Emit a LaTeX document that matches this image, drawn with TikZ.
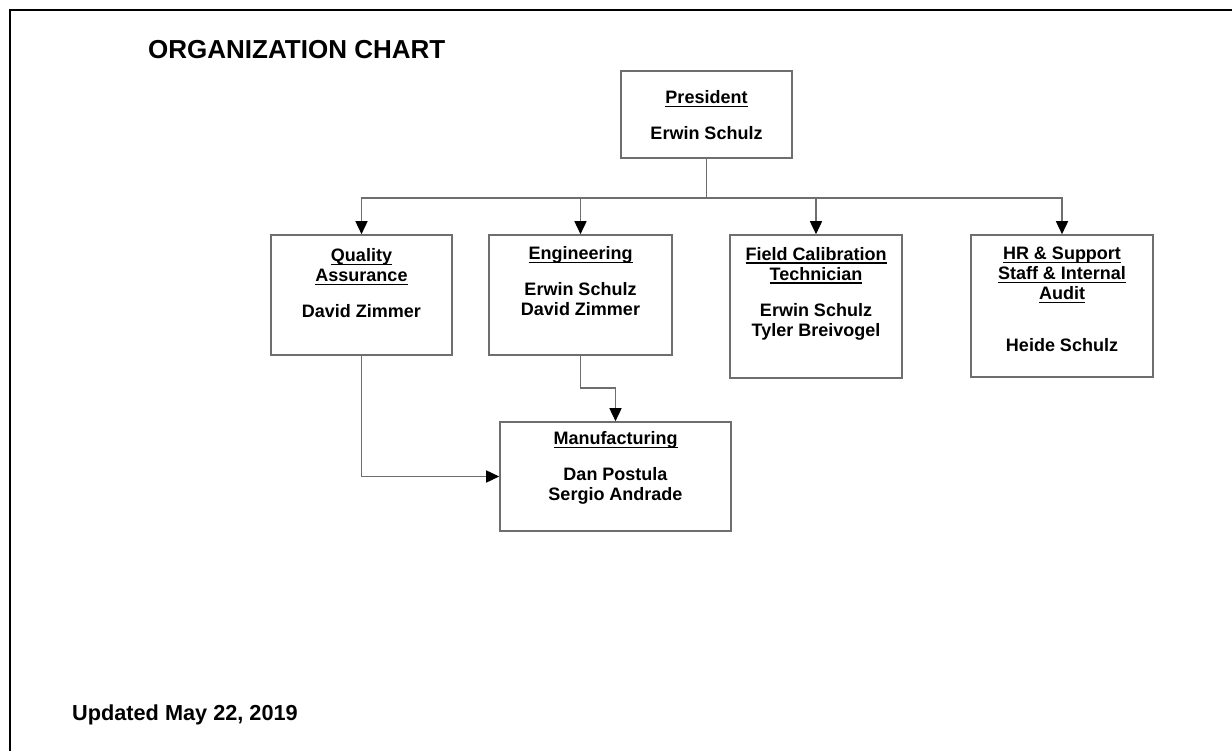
\documentclass[tikz,border=0pt]{standalone}
\usepackage{fontspec}
\setmainfont{Liberation Sans}
\usetikzlibrary{arrows.meta}
\definecolor{linegray}{RGB}{110,110,110}
\newsavebox{\myulbox}
\newcommand\myul[1]{\sbox{\myulbox}{#1}\rlap{\raisebox{-3.6pt}{\rule{\wd\myulbox}{1.5pt}}}\usebox{\myulbox}}
\begin{document}
\begin{tikzpicture}[x=1pt,y=-1pt,
  box/.style={draw=linegray,line width=1.6pt,fill=white,inner sep=0pt},
  conn/.style={draw=linegray,line width=1.6pt},
  arr/.style={conn,-{Triangle[length=13pt,width=12pt,color=black]}},
  lbl/.style={inner sep=0pt,align=center,font=\fontsize{18}{20}\selectfont\bfseries},
  bigtitle/.style={inner sep=0pt,anchor=west,font=\fontsize{26}{30}\selectfont\bfseries},
  foot/.style={inner sep=0pt,anchor=west,font=\fontsize{21.7}{24}\selectfont\bfseries}]
\useasboundingbox (0,0) rectangle (1232,751);
\fill[white] (0,0) rectangle (1232,751);
% outer frame (top and left visible)
\draw[black,line width=2.2pt] (10,751) -- (10,10) -- (1232,10);

\node[bigtitle] (title) at (148,50) {ORGANIZATION CHART};
\node[foot] (upd) at (72,715) {Updated May 22, 2019};

% boxes
\node[box,minimum width=171pt,minimum height=87pt] (pres) at (706.5,114.5) {};
\node[box,minimum width=181pt,minimum height=120pt] (qa) at (361.5,295) {};
\node[box,minimum width=183pt,minimum height=120pt] (eng) at (580.5,295) {};
\node[box,minimum width=172pt,minimum height=143pt] (fct) at (816,306.5) {};
\node[box,minimum width=182pt,minimum height=142pt] (hr) at (1062,306) {};
\node[box,minimum width=231pt,minimum height=109pt] (mfg) at (615.5,476.5) {};

% texts
\node[lbl] (presT) at (706.5,99) {\myul{President}};
\node[lbl] (presN) at (706.5,133) {Erwin Schulz};
\node[lbl] (qaT) at (361.5,267) {\myul{Quality}\\\myul{Assurance}};
\node[lbl] (qaN) at (361.5,311) {David Zimmer};
\node[lbl] (engT) at (580.5,255) {\myul{Engineering}};
\node[lbl] (engN) at (580.5,299.5) {Erwin Schulz\\David Zimmer};
\node[lbl] (fctT) at (816,265.5) {\myul{Field Calibration}\\\myul{Technician}};
\node[lbl] (fctN) at (816,322) {Erwin Schulz\\Tyler Breivogel};
\node[lbl] (hrT) at (1062,275) {\myul{HR \& Support}\\\myul{Staff \& Internal}\\\myul{Audit}};
\node[lbl] (hrN) at (1062,345) {Heide Schulz};
\node[lbl] (mfgT) at (615.5,440) {\myul{Manufacturing}};
\node[lbl] (mfgN) at (615.5,485.5) {Dan Postula\\Sergio Andrade};

% connectors
\draw[conn] (pres.south) -- ++(0,39) coordinate (bus);
\draw[arr] (bus) -| (qa.north);
\draw[arr] (bus) -| (eng.north);
\draw[arr] (bus) -| (fct.north);
\draw[arr] (bus) -| (hr.north);
\draw[arr] (eng.south) -- ++(0,32) -| (mfg.north);
\draw[arr] (qa.south) |- (mfg.west);
\end{tikzpicture}
\end{document}
